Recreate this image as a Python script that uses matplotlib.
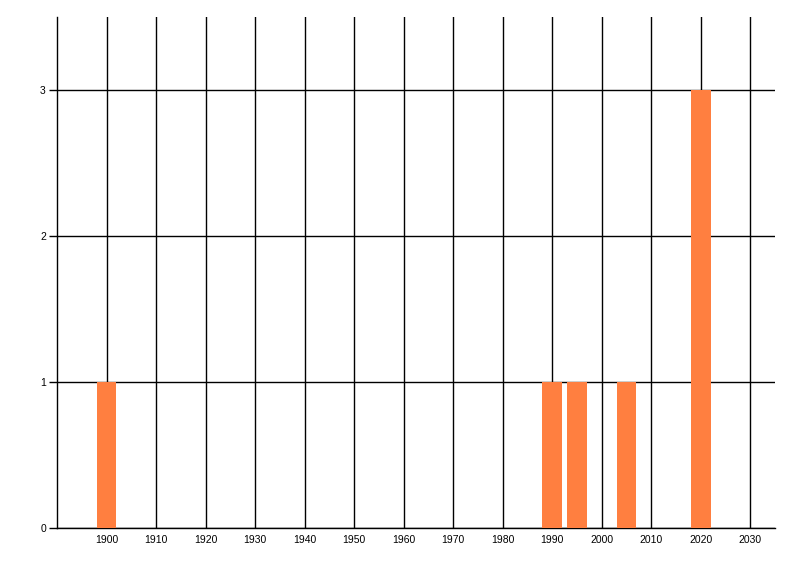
import matplotlib
matplotlib.use("Agg")
import matplotlib.pyplot as plt

# data
years = [1900, 1990, 1995, 2005, 2020]
counts = [1, 1, 1, 1, 3]
x_ticks = list(range(1900, 2031, 10))
y_ticks = [0, 1, 2, 3]

plt.rcParams["font.family"] = ["Liberation Sans", "DejaVu Sans"]

fig = plt.figure(figsize=(8, 5.76), dpi=100)
ax = fig.add_axes([57 / 800, 48 / 576, 718 / 800, 511 / 576])

ax.bar(years, counts, width=4, color="#FF7F40", zorder=3)

ax.set_xlim(1890, 2035)
ax.set_ylim(0, 3.5)
ax.set_xticks(x_ticks)
ax.set_yticks(y_ticks)
ax.tick_params(axis="x", length=0, labelsize=7.5, pad=5)
ax.tick_params(axis="y", length=6, width=1, labelsize=7.5, pad=2)

ax.grid(True, color="black", linewidth=1, zorder=1)
ax.set_axisbelow(True)

for side in ["top", "right"]:
    ax.spines[side].set_visible(False)
ax.spines["left"].set_linewidth(1)
ax.spines["bottom"].set_linewidth(1)

fig.savefig("out.png", dpi=100)
